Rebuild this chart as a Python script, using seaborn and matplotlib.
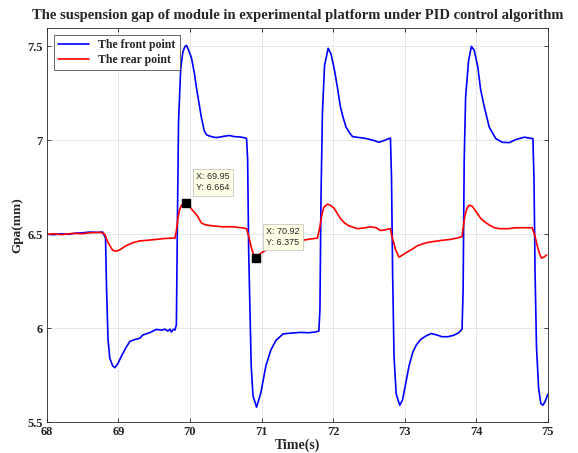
import numpy as np
import pandas as pd
import seaborn as sns
import matplotlib.pyplot as plt

# valeurs (temps en s, entrefer en mm)
front_t = [68.00, 68.10, 68.20, 68.30, 68.40, 68.50, 68.60, 68.70, 68.78,
           68.82, 68.835, 68.855, 68.88, 68.92, 68.95,
           68.99, 69.04, 69.11, 69.16, 69.23, 69.30, 69.34, 69.44, 69.53, 69.60, 69.65, 69.69, 69.72, 69.74, 69.77, 69.79,
           69.81, 69.825, 69.84, 69.87, 69.90, 69.93, 69.95,
           69.97, 70.02, 70.06, 70.09, 70.13, 70.16, 70.20, 70.23, 70.26, 70.30, 70.36, 70.41, 70.48, 70.55, 70.62, 70.70, 70.76, 70.79,
           70.805, 70.82, 70.84, 70.855, 70.88, 70.93,
           70.99, 71.06, 71.13, 71.20, 71.30, 71.44, 71.55, 71.65, 71.75, 71.80,
           71.815, 71.83, 71.85, 71.88, 71.93,
           71.97, 72.02, 72.06, 72.10, 72.14, 72.18, 72.23, 72.27, 72.36, 72.46, 72.56, 72.64, 72.72, 72.78, 72.80,
           72.815, 72.83, 72.85, 72.88, 72.93,
           72.97, 73.02, 73.06, 73.11, 73.16, 73.22, 73.30, 73.37, 73.44, 73.52, 73.60, 73.68, 73.75, 73.80,
           73.815, 73.83, 73.85, 73.89, 73.93,
           73.97, 74.02, 74.06, 74.11, 74.18, 74.27, 74.36, 74.46, 74.55, 74.67, 74.77, 74.79,
           74.805, 74.82, 74.84, 74.87, 74.90, 74.93, 74.96, 75.00]
front_y = [6.500, 6.498, 6.503, 6.500, 6.506, 6.508, 6.512, 6.510, 6.512,
           6.48, 6.20, 5.94, 5.84, 5.80, 5.79,
           5.81, 5.85, 5.90, 5.93, 5.94, 5.947, 5.964, 5.977, 5.994, 5.99, 5.995, 5.985, 5.995, 5.98, 5.995, 5.99,
           6.02, 6.60, 7.10, 7.38, 7.47, 7.50, 7.505,
           7.49, 7.44, 7.36, 7.28, 7.19, 7.12, 7.05, 7.03, 7.025, 7.02, 7.015, 7.017, 7.022, 7.026, 7.02, 7.018, 7.014, 7.01,
           6.90, 6.40, 6.06, 5.80, 5.64, 5.58,
           5.657, 5.80, 5.885, 5.935, 5.97, 5.975, 5.978, 5.976, 5.98, 5.985,
           6.10, 6.70, 7.15, 7.40, 7.49,
           7.46, 7.37, 7.28, 7.18, 7.12, 7.07, 7.04, 7.02, 7.015, 7.01, 7.00, 6.99, 7.00, 7.01, 7.012,
           6.80, 6.30, 5.85, 5.65, 5.59,
           5.62, 5.72, 5.80, 5.87, 5.91, 5.94, 5.96, 5.972, 5.965, 5.955, 5.955, 5.962, 5.975, 5.995,
           6.20, 6.89, 7.23, 7.42, 7.50,
           7.48, 7.39, 7.27, 7.18, 7.07, 7.01, 6.99, 6.988, 7.004, 7.017, 7.01, 7.01,
           6.80, 6.30, 5.90, 5.68, 5.60, 5.59, 5.61, 5.65]

rear_t = [68.00, 68.10, 68.20, 68.37, 68.50, 68.60, 68.70, 68.76,
          68.81, 68.85, 68.88, 68.92, 68.97, 69.03, 69.11, 69.20, 69.30, 69.40, 69.53, 69.65, 69.79,
          69.81, 69.83, 69.85, 69.88, 69.95, 69.98, 70.04, 70.10, 70.16, 70.22, 70.32, 70.45, 70.60, 70.72, 70.79,
          70.82, 70.85, 70.88, 70.92, 70.99, 71.08, 71.20, 71.32, 71.45, 71.57, 71.68, 71.78,
          71.81, 71.84, 71.87, 71.92, 71.96, 72.01, 72.10, 72.16, 72.22, 72.34, 72.45, 72.52, 72.60, 72.66, 72.74, 72.80,
          72.82, 72.85, 72.87, 72.92, 73.01, 73.10, 73.18, 73.30, 73.41, 73.52, 73.64, 73.73, 73.80,
          73.81, 73.84, 73.87, 73.90, 73.94, 73.97, 74.06, 74.12, 74.18, 74.25, 74.32, 74.45, 74.55, 74.65, 74.78,
          74.82, 74.85, 74.88, 74.91, 74.95, 74.98]
rear_y = [6.500, 6.503, 6.498, 6.505, 6.503, 6.508, 6.510, 6.510,
          6.50, 6.46, 6.44, 6.415, 6.41, 6.42, 6.44, 6.455, 6.465, 6.468, 6.473, 6.478, 6.48,
          6.52, 6.58, 6.625, 6.655, 6.664, 6.655, 6.626, 6.60, 6.56, 6.55, 6.545, 6.54, 6.54, 6.535, 6.53,
          6.49, 6.44, 6.40, 6.375, 6.40, 6.42, 6.44, 6.455, 6.462, 6.468, 6.475, 6.48,
          6.53, 6.60, 6.645, 6.66, 6.655, 6.64, 6.585, 6.56, 6.545, 6.53, 6.535, 6.54, 6.535, 6.52, 6.525, 6.53,
          6.49, 6.45, 6.42, 6.378, 6.40, 6.42, 6.44, 6.455, 6.462, 6.468, 6.473, 6.48, 6.488,
          6.52, 6.60, 6.64, 6.655, 6.65, 6.635, 6.585, 6.565, 6.55, 6.535, 6.53, 6.53, 6.535, 6.535, 6.535,
          6.49, 6.44, 6.40, 6.373, 6.38, 6.39]

# points marqués (data tips)
tip_x = [69.95, 70.92]
tip_y = [6.664, 6.375]

x_ticks = [68, 69, 70, 71, 72, 73, 74, 75]
y_ticks = [5.5, 6, 6.5, 7, 7.5]

df = pd.concat([
    pd.DataFrame({'t': front_t, 'gap': front_y, 'serie': 'The front point'}),
    pd.DataFrame({'t': rear_t, 'gap': rear_y, 'serie': 'The rear point'}),
], ignore_index=True)

sns.set_theme(style="ticks")
plt.rcParams['font.family'] = ['Liberation Serif', 'DejaVu Serif']
plt.rcParams['font.weight'] = 'bold'

fig = plt.figure(figsize=(5.78, 4.53), dpi=100)
ax = fig.add_axes([0.081, 0.068, 0.867, 0.871])

sns.lineplot(data=df, x='t', y='gap', hue='serie', estimator=None, sort=False,
             palette={'The front point': '#0000ff', 'The rear point': '#ff0000'},
             linewidth=1.2, ax=ax)

# marqueurs + boites des data tips
ax.plot(tip_x, tip_y, 's', color='black', markersize=6, zorder=5)
for xx, yy in zip(tip_x, tip_y):
    ax.annotate(f"X: {xx:.2f}\nY: {yy:.3f}", (xx, yy), xytext=(10, 11),
                textcoords='offset pixels', ha='left', va='bottom',
                fontsize=6.5, fontweight='normal', family='Liberation Sans',
                linespacing=1.3,
                bbox=dict(boxstyle='square,pad=0.35', fc='#ffffe6', ec='#c8c8c8', lw=0.6),
                zorder=6)

ax.set_xlim(68, 75)
ax.set_ylim(5.5, 7.6)
ax.set_xticks(x_ticks)
ax.set_yticks(y_ticks)
ax.set_xticklabels([str(v) for v in x_ticks])
ax.set_yticklabels(['5.5', '6', '6.5', '7', '7.5'])
ax.tick_params(direction='in', top=True, right=True, labelsize=9, length=3, width=0.6, pad=3)
ax.grid(True, color='#e3e3e3', linewidth=0.6)
for s in ax.spines.values():
    s.set_color('#262626')
    s.set_linewidth(0.6)

ax.set_xlabel('Time(s)', fontsize=10, fontweight='bold', labelpad=0)
ax.set_ylabel('Gpa(mm)', fontsize=9.5, fontweight='bold', labelpad=3)
ax.set_title('The suspension gap of module in experimental platform under PID control algorithm',
             fontsize=10.5, fontweight='bold', pad=6)

leg = ax.legend(loc='upper left', fontsize=8.5, handlelength=2.6, frameon=True,
                fancybox=False, borderaxespad=0.6, borderpad=0.35, labelspacing=0.25)
leg.get_frame().set_edgecolor('#262626')
leg.get_frame().set_linewidth(0.6)
for txt in leg.get_texts():
    txt.set_fontweight('bold')

fig.savefig('out.png', dpi=100)
